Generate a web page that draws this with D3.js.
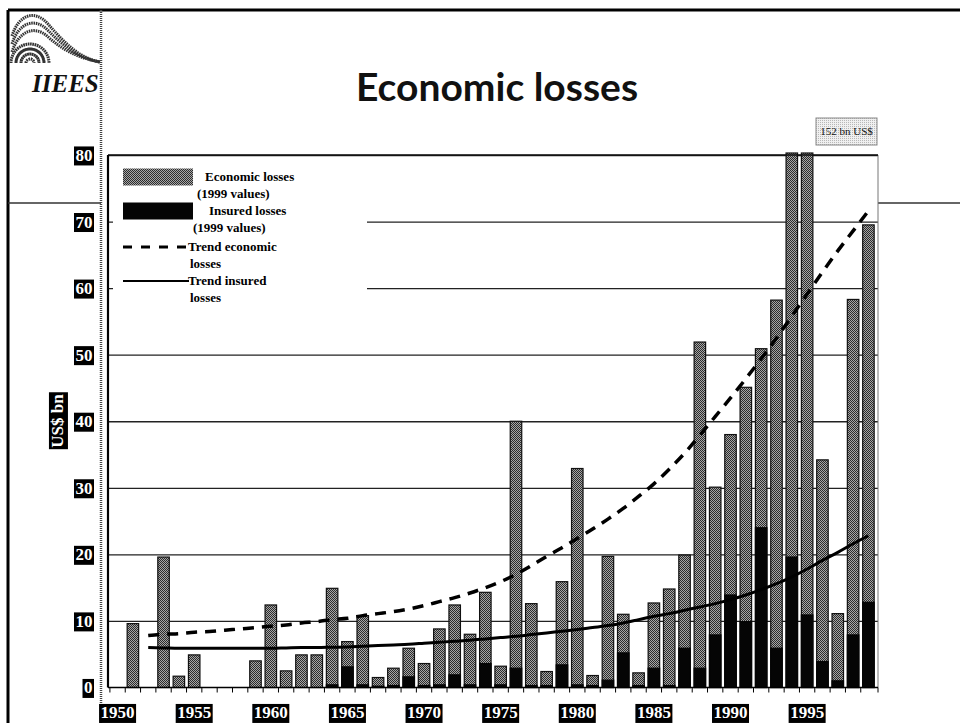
<!DOCTYPE html>
<html>
<head>
<meta charset="utf-8">
<script src="https://cdn.jsdelivr.net/npm/d3@7"></script>
<style>
body{margin:0;background:#fff;}
svg{display:block;}
</style>
</head>
<body>
<div id="chart"></div>
<script>

const width = 960;
const height = 723;
const margin = {top:155,right:82,bottom:35.5,left:108};

// years on the category axis
const years = d3.range(1950, 2000);

// economic losses, US$ bn (1999 values) - 1994 and 1995 run off the top
const economic = [
0, 9.6, 0, 19.6, 1.7, 4.9, 0, 0, 0, 4.0,
12.4, 2.5, 4.9, 4.9, 14.9, 6.9, 10.8, 1.5, 2.9, 5.9,
3.6, 8.8, 12.4, 8.0, 14.3, 3.2, 40.0, 12.6, 2.4, 15.9,
32.9, 1.8, 19.7, 11.0, 2.2, 12.7, 14.8, 19.9, 51.9, 30.1,
38.0, 45.1, 50.9, 58.2, 90, 152, 34.2, 11.1, 58.3, 69.5
];

// insured losses, US$ bn (1999 values)
const insured = [
0, 0, 0, 0, 0, 0, 0, 0, 0, 0,
0, 0, 0, 0, 0.4, 3.1, 0.4, 0.2, 0.3, 1.6,
0.3, 0.4, 1.9, 0.4, 3.6, 0.4, 2.9, 0.3, 0.3, 3.4,
0.4, 0.3, 1.1, 5.2, 0.3, 2.9, 0.3, 5.9, 2.9, 7.9,
13.9, 9.9, 24.0, 5.9, 19.6, 10.9, 3.9, 1.0, 7.9, 12.8
];

const trendYears = d3.range(1952, 2000);

const trendEconomic = [
7.8, 8.0, 8.1, 8.3, 8.4, 8.6, 8.8, 9.0, 9.2, 9.4,
9.7, 9.9, 10.2, 10.4, 10.8, 11.1, 11.4, 11.8, 12.3, 12.9,
13.5, 14.2, 15.0, 15.9, 17.0, 18.3, 19.7, 21.0, 22.4, 23.8,
25.3, 26.9, 28.7, 30.6, 32.8, 35.2, 37.9, 40.7, 43.5, 46.4,
49.4, 52.5, 55.8, 59.1, 62.4, 65.6, 68.6, 71.6
];

const trendInsured = [
6.0, 5.95, 5.9, 5.9, 5.9, 5.9, 5.9, 5.9, 5.9, 5.95,
6.0, 6.0, 6.05, 6.1, 6.2, 6.3, 6.4, 6.5, 6.65, 6.8,
6.95, 7.1, 7.3, 7.5, 7.7, 7.95, 8.2, 8.45, 8.7, 9.0,
9.3, 9.7, 10.2, 10.7, 11.1, 11.6, 12.1, 12.6, 13.2, 13.9,
14.7, 15.6, 16.6, 17.8, 19.1, 20.3, 21.6, 22.8
];

const yTicks = [0,10,20,30,40,50,60,70,80];
const xTickYears = [1950,1955,1960,1965,1970,1975,1980,1985,1990,1995];

const legendItems = [
{kind:"gray", lines:["Economic losses","(1999 values)"]},
{kind:"black", lines:["Insured losses","(1999 values)"]},
{kind:"dash", lines:["Trend economic","losses"]},
{kind:"solid", lines:["Trend insured","losses"]}
];

const serif = "'Liberation Serif','Times New Roman',serif";

const svg = d3.select("#chart")
.append("svg")
.attr("width",width)
.attr("height",height);

// dithered gray like the scanned slide
const defs = svg.append("defs");
const pat = defs.append("pattern")
.attr("id","dots")
.attr("width",2)
.attr("height",2)
.attr("patternUnits","userSpaceOnUse");
pat.append("rect").attr("width",2).attr("height",2).attr("fill","#a6a6a6");
pat.append("rect").attr("width",1).attr("height",1).attr("fill","#2c2c2c");
pat.append("rect").attr("x",1).attr("y",1).attr("width",1).attr("height",1).attr("fill","#2c2c2c");

const pat2 = defs.append("pattern")
.attr("id","lightdots")
.attr("width",2)
.attr("height",2)
.attr("patternUnits","userSpaceOnUse");
pat2.append("rect").attr("width",2).attr("height",2).attr("fill","#f0f0f0");
pat2.append("rect").attr("width",1).attr("height",1).attr("fill","#b8b8b8");

////////////////////////////////////////////////
//// SLIDE FRAME + LOGO
////////////////////////////////////////////////

svg.append("line")
.attr("x1",8).attr("x2",width).attr("y1",10).attr("y2",10)
.attr("stroke","#000").attr("stroke-width",3);

svg.append("line")
.attr("x1",8).attr("x2",8).attr("y1",10).attr("y2",height)
.attr("stroke","#000").attr("stroke-width",3);

svg.append("line")
.attr("x1",101).attr("x2",101).attr("y1",10).attr("y2",height)
.attr("stroke","#444").attr("stroke-width",2.5)
.attr("stroke-dasharray","1,1");

// rule across the slide
svg.append("line")
.attr("x1",8).attr("x2",101).attr("y1",203).attr("y2",203)
.attr("stroke","#333").attr("stroke-width",1.5);
svg.append("line")
.attr("x1",878).attr("x2",width).attr("y1",203).attr("y2",203)
.attr("stroke","#333").attr("stroke-width",1.5);

// wave logo
const logo = svg.append("g")
.attr("fill","none")
.attr("stroke","#333")
.attr("stroke-width",3)
.attr("stroke-dasharray","1.5,0.8");

[0,8,16].forEach(o=>{
logo.append("path")
.attr("d",`M12,${36+o} C18,${16+o} 34,${8+o} 48,${24+o*0.8} S78,${58} 100,${62}`);
});
[4,9,14,19].forEach(r=>{
logo.append("path")
.attr("d",d3.arc()({innerRadius:r,outerRadius:r,startAngle:-Math.PI/2,endAngle:Math.PI/2}))
.attr("transform","translate(30,63)");
});

svg.append("text")
.attr("x",32)
.attr("y",92)
.attr("font-family",serif)
.attr("font-weight","bold")
.attr("font-style","italic")
.attr("font-size",25)
.attr("fill","#111")
.text("IIEES");

// TITLE
svg.append("text")
.attr("x",497)
.attr("y",101)
.attr("text-anchor","middle")
.attr("font-family","Lato, 'DejaVu Sans', sans-serif")
.attr("font-weight","bold")
.attr("font-size",39)
.attr("fill","#111")
.text("Economic losses");

////////////////////////////////////////////////
//// SCALES
////////////////////////////////////////////////

const x = d3.scaleBand()
.domain(years)
.range([margin.left,width-margin.right])
.padding(0.25);

const y = d3.scaleLinear()
.domain([0,80])
.range([height-margin.bottom,margin.top])
.clamp(true);

// GRID
svg.append("g")
.attr("transform",`translate(${margin.left},0)`)
.call(
d3.axisLeft(y)
.tickValues(yTicks.slice(1))
.tickSize(-(width-margin.left-margin.right))
.tickFormat("")
)
.call(g=>g.select(".domain").remove())
.call(g=>g.selectAll("line").attr("stroke","#222").attr("stroke-width",1.3));

// right border of plot
svg.append("line")
.attr("x1",width-margin.right).attr("x2",width-margin.right)
.attr("y1",margin.top).attr("y2",height-margin.bottom)
.attr("stroke","#777").attr("stroke-width",1);

// BARS
svg.append("g")
.selectAll("rect")
.data(years.map((yr,i)=>({year:yr,value:economic[i]})).filter(d=>d.value>0))
.enter()
.append("rect")
.attr("x",d=>x(d.year))
.attr("y",d=>y(d.value)-(d.value>80?2:0))
.attr("width",x.bandwidth())
.attr("height",d=>y(0)-y(d.value)+(d.value>80?2:0))
.attr("fill","url(#dots)")
.attr("stroke","#111")
.attr("stroke-width",1.2);

svg.append("g")
.selectAll("rect")
.data(years.map((yr,i)=>({year:yr,value:insured[i]})).filter(d=>d.value>0))
.enter()
.append("rect")
.attr("x",d=>x(d.year))
.attr("y",d=>y(d.value))
.attr("width",x.bandwidth())
.attr("height",d=>y(0)-y(d.value))
.attr("fill","#050505")
.attr("stroke","#050505")
.attr("stroke-width",1.2);

// TREND LINES
const trendLine = vals => d3.line()
.x((d,i)=>x(trendYears[i])+x.bandwidth()/2)
.y(d=>y(d))
.curve(d3.curveMonotoneX)(vals);

svg.append("path")
.attr("d",trendLine(trendEconomic))
.attr("fill","none")
.attr("stroke","#000")
.attr("stroke-width",3.5)
.attr("stroke-dasharray","11,8");

svg.append("path")
.attr("d",trendLine(trendInsured))
.attr("fill","none")
.attr("stroke","#000")
.attr("stroke-width",3);

// TOP BORDER (80 line)
svg.append("line")
.attr("x1",margin.left).attr("x2",width-margin.right)
.attr("y1",y(80)).attr("y2",y(80))
.attr("stroke","#111").attr("stroke-width",1.5);

// X AXIS - ticks on band edges
const xAxis = svg.append("g")
.attr("transform",`translate(0,${height-margin.bottom})`);

xAxis.append("line")
.attr("x1",margin.left).attr("x2",width-margin.right)
.attr("stroke","#000").attr("stroke-width",1.5);

xAxis.selectAll(".tk")
.data(years.concat([2000]))
.enter()
.append("line")
.attr("class","tk")
.attr("x1",d=>x(d)!==undefined ? x(d)-x.step()*x.paddingInner()/2 : width-margin.right)
.attr("x2",d=>x(d)!==undefined ? x(d)-x.step()*x.paddingInner()/2 : width-margin.right)
.attr("y1",0).attr("y2",5)
.attr("stroke","#000").attr("stroke-width",1);

// boxed white-on-black label
function boxLabel(g, tx, ty, str, rotate){
const grp = g.append("g").attr("transform",`translate(${tx},${ty})${rotate?" rotate(-90)":""}`);
const rect = grp.append("rect").attr("fill","#000");
const t = grp.append("text")
.attr("text-anchor","middle")
.attr("dy","0.35em")
.attr("font-family",serif)
.attr("font-weight","bold")
.attr("font-size",17)
.attr("fill","#fff")
.text(str);
const bb = t.node().getBBox();
rect.attr("x",bb.x-1.5).attr("y",bb.y+0.5).attr("width",bb.width+3).attr("height",bb.height);
return grp;
}

xTickYears.forEach(yr=>{
boxLabel(svg, x(yr)+x.bandwidth()/2, 712.5, String(yr));
});

// Y AXIS
svg.append("line")
.attr("x1",margin.left).attr("x2",margin.left)
.attr("y1",margin.top).attr("y2",height-margin.bottom)
.attr("stroke","#000").attr("stroke-width",2.2);

yTicks.forEach(v=>{
const grp = boxLabel(svg, 0, y(v), String(v));
const bb = grp.node().getBBox();
grp.attr("transform",`translate(${94-bb.width/2},${y(v)})`);
});

// Y LABEL
boxLabel(svg, 57.5, 421, "US$ bn", true);

////////////////////////////////////////////////
//// LEGEND
////////////////////////////////////////////////

const legend = svg.append("g");

legend.append("rect")
.attr("x",113).attr("y",157)
.attr("width",254).attr("height",150)
.attr("fill","#fff");

const rowY = d3.scaleLinear().domain([0,1]).range([177,211]);
const textX = [205,209,188,188];
const textX2 = [197,193,190,190];

legendItems.forEach((item,i)=>{
const cy = i<2 ? rowY(i) : 247+(i-2)*34;
if(item.kind==="gray" || item.kind==="black"){
legend.append("rect")
.attr("x",123).attr("y",cy-8.5)
.attr("width",70).attr("height",17)
.attr("fill",item.kind==="gray"?"url(#dots)":"#050505");
} else {
legend.append("line")
.attr("x1",123).attr("x2",item.kind==="dash"?186:189)
.attr("y1",cy).attr("y2",cy)
.attr("stroke","#000")
.attr("stroke-width",item.kind==="dash"?3:2)
.attr("stroke-dasharray",item.kind==="dash"?"9,9":null);
}
legend.append("text")
.attr("x",textX[i]).attr("y",cy+4)
.attr("font-family",serif).attr("font-weight","bold").attr("font-size",13)
.attr("fill","#000")
.text(item.lines[0]);
legend.append("text")
.attr("x",textX2[i]).attr("y",cy+21)
.attr("font-family",serif).attr("font-weight","bold").attr("font-size",13)
.attr("fill","#000")
.text(item.lines[1]);
});

// NOTE BOX for the clipped bar
svg.append("rect")
.attr("x",816).attr("y",118)
.attr("width",61).attr("height",27)
.attr("fill","url(#lightdots)")
.attr("stroke","#888").attr("stroke-width",1);

svg.append("text")
.attr("x",846.5).attr("y",135)
.attr("text-anchor","middle")
.attr("font-family",serif)
.attr("font-size",11)
.attr("fill","#111")
.text("152 bn US$");

</script>
</body>
</html>
